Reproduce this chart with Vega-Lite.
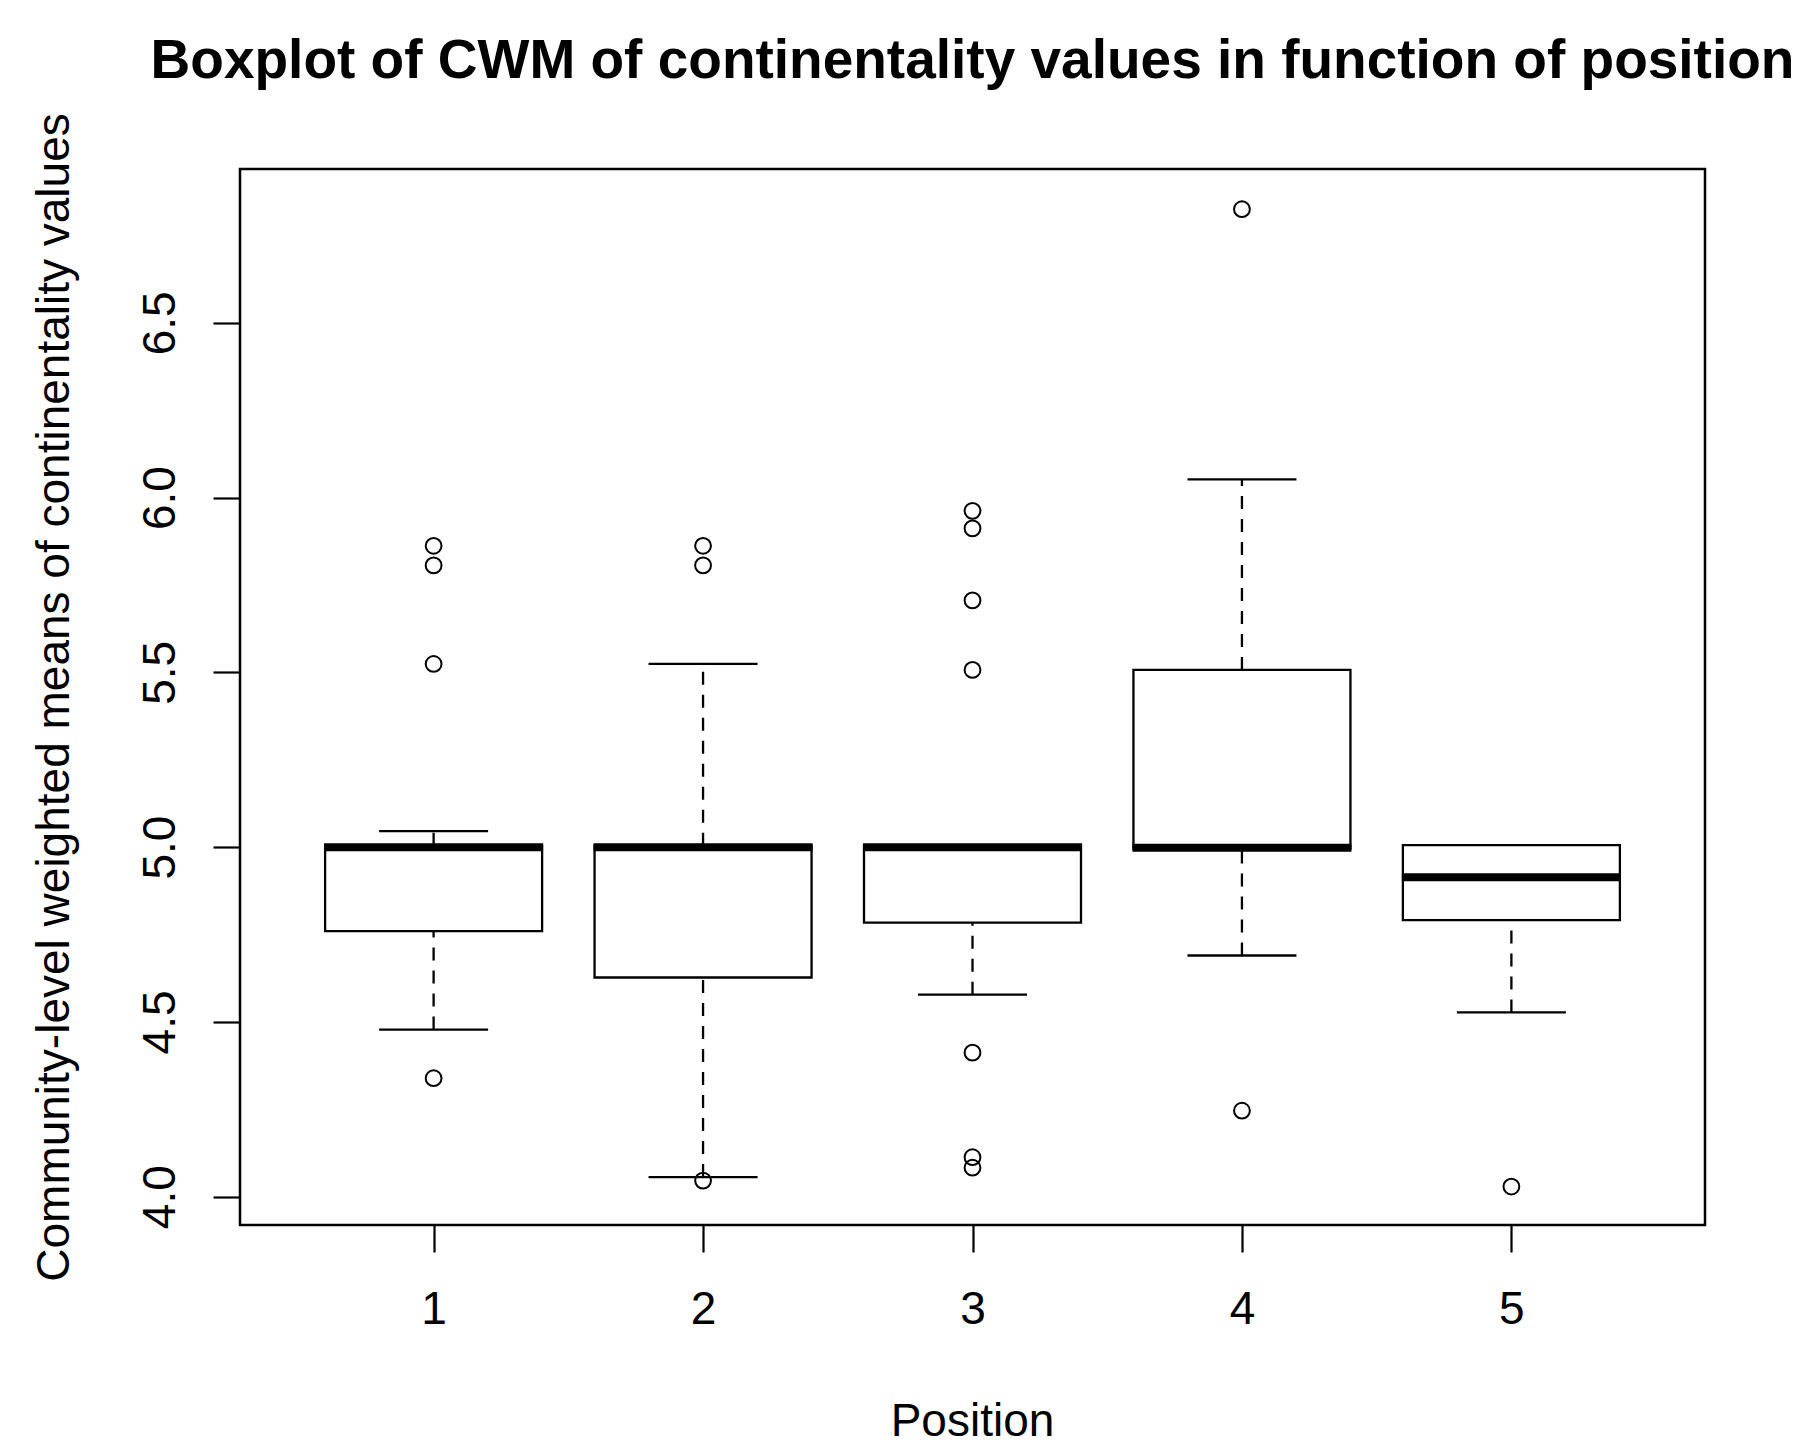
{
  "$schema": "https://vega.github.io/schema/vega-lite/v6.json",
  "width": 1465,
  "height": 1056,
  "autosize": {"type": "none"},
  "padding": {"left": 240, "top": 169, "right": 112, "bottom": 230},
  "background": "white",
  "config": {
    "font": "Liberation Sans",
    "view": {"stroke": "black", "strokeWidth": 2.5},
    "axis": {
      "grid": false,
      "domain": false,
      "tickColor": "black",
      "tickWidth": 2.2,
      "tickSize": 27,
      "labelFont": "Liberation Sans",
      "labelFontSize": 46,
      "labelColor": "black",
      "titleFont": "Liberation Sans",
      "titleFontSize": 46,
      "titleFontWeight": "normal",
      "titleColor": "black"
    }
  },
  "title": {
    "text": "Boxplot of CWM of continentality values in function of position",
    "font": "Liberation Sans",
    "fontSize": 55,
    "fontWeight": "bold",
    "color": "black",
    "anchor": "middle",
    "frame": "group",
    "baseline": "alphabetic",
    "offset": 0,
    "dy": 20
  },
  "datasets": {
    "boxes": [
      {"position": 1, "lower": 4.478, "q1": 4.760, "median": 5.000, "q3": 5.004, "upper": 5.046},
      {"position": 2, "lower": 4.056, "q1": 4.627, "median": 5.000, "q3": 5.004, "upper": 5.524},
      {"position": 3, "lower": 4.578, "q1": 4.784, "median": 5.000, "q3": 5.004, "upper": 5.004},
      {"position": 4, "lower": 4.690, "q1": 4.996, "median": 4.998, "q3": 5.507, "upper": 6.052},
      {"position": 5, "lower": 4.527, "q1": 4.791, "median": 4.914, "q3": 5.006, "upper": 5.006}
    ],
    "outliers": [
      {"position": 1, "value": 5.862},
      {"position": 1, "value": 5.806},
      {"position": 1, "value": 5.524},
      {"position": 1, "value": 4.339},
      {"position": 2, "value": 5.862},
      {"position": 2, "value": 5.806},
      {"position": 2, "value": 4.046},
      {"position": 3, "value": 5.962},
      {"position": 3, "value": 5.912},
      {"position": 3, "value": 5.706},
      {"position": 3, "value": 5.507},
      {"position": 3, "value": 4.412},
      {"position": 3, "value": 4.113},
      {"position": 3, "value": 4.083},
      {"position": 4, "value": 6.825},
      {"position": 4, "value": 4.246},
      {"position": 5, "value": 4.029}
    ]
  },
  "encoding": {
    "x": {
      "field": "position",
      "type": "quantitative",
      "title": "Position",
      "scale": {"domain": [0.3, 5.7], "nice": false, "zero": false},
      "axis": {
        "values": [1, 2, 3, 4, 5],
        "format": "d",
        "labelBaseline": "alphabetic",
        "labelPadding": 71,
        "titleBaseline": "alphabetic",
        "titleY": 210,
        "titleX": 732
      }
    }
  },
  "layer": [
    {
      "data": {"name": "boxes"},
      "mark": {"type": "rule", "color": "black", "strokeWidth": 2.3, "strokeDash": [13, 10]},
      "encoding": {
        "y": {
          "field": "lower",
          "type": "quantitative",
          "title": "Community-level weighted means of continentality values",
          "scale": {"domain": [3.919, 6.94], "nice": false, "zero": false},
          "axis": {
            "values": [4.0, 4.5, 5.0, 5.5, 6.0, 6.5],
            "format": ".1f",
            "labelAngle": -90,
            "labelAlign": "center",
            "labelBaseline": "alphabetic",
            "labelPadding": 39,
            "titleAngle": -90,
            "titleAlign": "center",
            "titleBaseline": "alphabetic",
            "titleX": -172,
            "titleY": 528
          }
        },
        "y2": {"field": "q1"}
      }
    },
    {
      "data": {"name": "boxes"},
      "mark": {"type": "rule", "color": "black", "strokeWidth": 2.3, "strokeDash": [13, 10]},
      "encoding": {
        "y": {"field": "q3", "type": "quantitative", "title": "Community-level weighted means of continentality values"},
        "y2": {"field": "upper"}
      }
    },
    {
      "data": {"name": "boxes"},
      "mark": {"type": "tick", "color": "black", "orient": "horizontal", "size": 109, "thickness": 2.3, "opacity": 1},
      "encoding": {
        "y": {"field": "lower", "type": "quantitative", "title": "Community-level weighted means of continentality values"}
      }
    },
    {
      "data": {"name": "boxes"},
      "mark": {"type": "tick", "color": "black", "orient": "horizontal", "size": 109, "thickness": 2.3, "opacity": 1},
      "encoding": {
        "y": {"field": "upper", "type": "quantitative", "title": "Community-level weighted means of continentality values"}
      }
    },
    {
      "data": {"name": "boxes"},
      "mark": {"type": "bar", "fill": "white", "stroke": "black", "strokeWidth": 2.3, "width": 217},
      "encoding": {
        "y": {"field": "q1", "type": "quantitative", "title": "Community-level weighted means of continentality values"},
        "y2": {"field": "q3"}
      }
    },
    {
      "data": {"name": "boxes"},
      "mark": {"type": "tick", "color": "black", "orient": "horizontal", "size": 219, "thickness": 8, "opacity": 1},
      "encoding": {
        "y": {"field": "median", "type": "quantitative", "title": "Community-level weighted means of continentality values"}
      }
    },
    {
      "data": {"name": "outliers"},
      "mark": {"type": "point", "shape": "circle", "filled": false, "color": "black", "strokeWidth": 2, "size": 250, "opacity": 1},
      "encoding": {
        "y": {"field": "value", "type": "quantitative", "title": "Community-level weighted means of continentality values"}
      }
    }
  ]
}
